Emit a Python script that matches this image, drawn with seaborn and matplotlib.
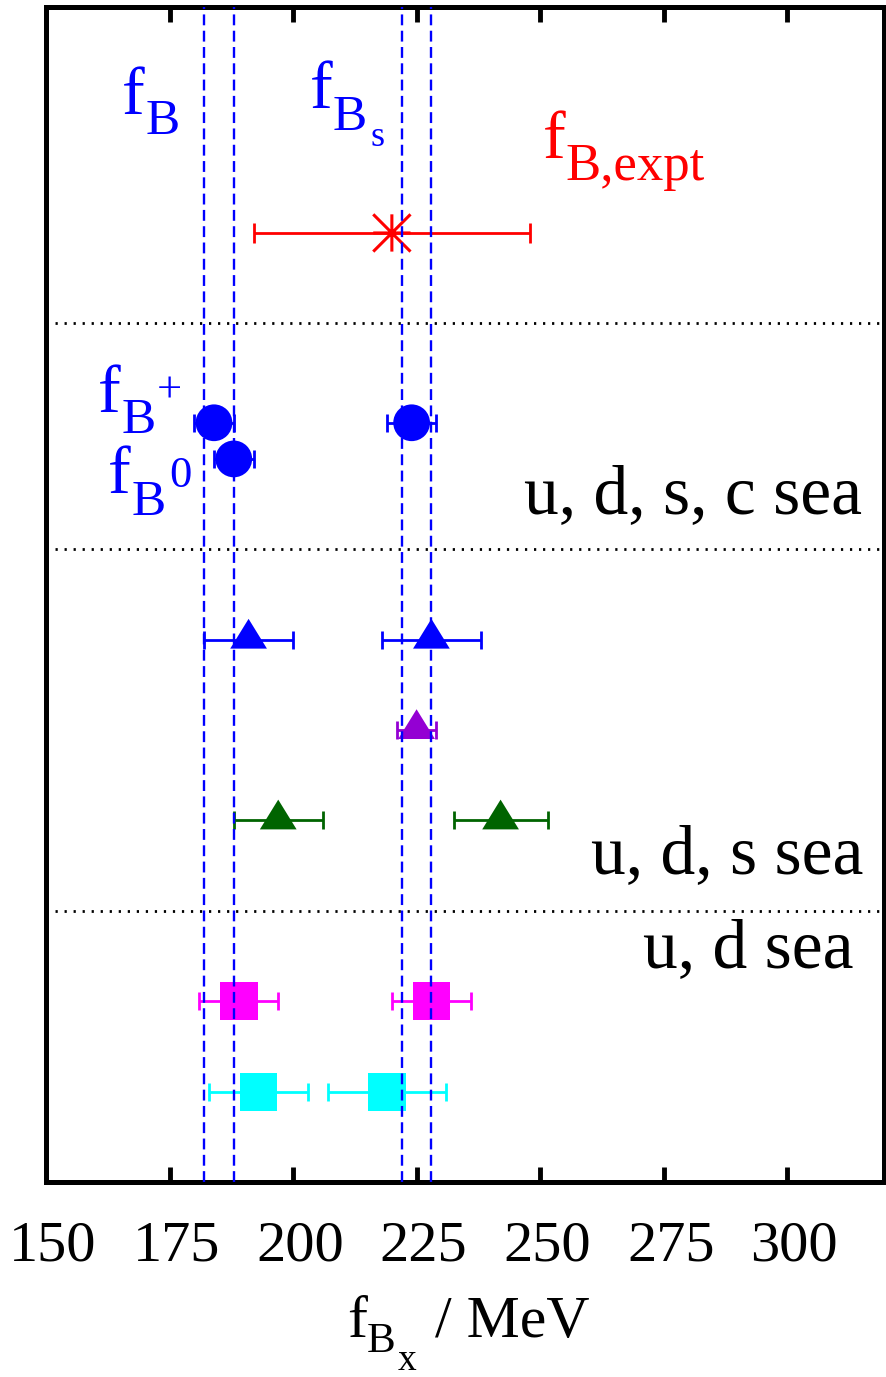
import matplotlib
matplotlib.use("Agg")
import matplotlib.pyplot as plt
from matplotlib.path import Path
from matplotlib.transforms import ScaledTranslation
import numpy as np
import pandas as pd
import seaborn as sns

# ---- data -------------------------------------------------------------
# Lattice results for f_B (left) and f_Bs (right), in MeV, one row per entry
row_pos = [4.6, 4.6, 5.0, 7.0, 7.0, 8.0, 9.0, 9.0, 11.0, 11.0, 12.0, 12.0]
decay_const = [184, 224, 188, 191, 228, 225, 197, 242, 189, 228, 193, 219]
decay_err = [4, 5, 4, 9, 10, 4, 9, 9.5, 8, 8, 10, 12]
group = ["nf4", "nf4", "nf4", "nrqcd", "nrqcd", "hisq",
         "fnal", "fnal", "etm", "etm", "alpha", "alpha"]

# Experimental determination of f_B
expt_value = [220]
expt_err = [28]
expt_row = [2.5]

# Edges of the dashed bands for f_B and f_Bs
band_fB = [182, 188]
band_fBs = [222, 228]

separator_rows = [3.5, 6.0, 10.0]
xticks = [150, 175, 200, 225, 250, 275, 300]

# ---- styling ----------------------------------------------------------
sns.set_theme(style="white")
plt.rcParams["font.family"] = ["Liberation Serif", "DejaVu Serif"]
plt.rcParams["text.color"] = "black"
plt.rcParams["axes.labelcolor"] = "black"
plt.rcParams["xtick.color"] = "black"

tri = [(-0.5, -0.243), (0.5, -0.243), (0.0, 0.567)]
asterisk = Path(
    [(0, -1), (0, 1), (-1, -1), (1, 1), (-1, 1), (1, -1), (-1, 0), (1, 0)],
    [Path.MOVETO, Path.LINETO] * 4,
)

styles = {
    "nf4":   dict(color="#0000ff", marker="o", s=700),
    "nrqcd": dict(color="#0000ff", marker=tri, s=900),
    "hisq":  dict(color="#9400d3", marker=tri, s=900),
    "fnal":  dict(color="#006400", marker=tri, s=900),
    "etm":   dict(color="#ff00ff", marker="s", s=740),
    "alpha": dict(color="#00ffff", marker="s", s=740),
}

df = pd.DataFrame({"value": decay_const, "err": decay_err,
                   "row": row_pos, "group": group})
expt = pd.DataFrame({"value": expt_value, "err": expt_err, "row": expt_row})

DPI = 100
fig = plt.figure(figsize=(8.86, 13.77), dpi=DPI)
ax = fig.add_axes([46 / 886, 1 - 1182 / 1377, 838 / 886, 1175 / 1377])

for g, st in styles.items():
    sub = df[df["group"] == g]
    ax.errorbar(sub["value"], sub["row"], xerr=sub["err"], fmt="none",
                ecolor=st["color"], elinewidth=2.0, capsize=6.5, capthick=2.0,
                zorder=2)
    sns.scatterplot(data=sub, x="value", y="row", ax=ax, color=st["color"],
                    marker=st["marker"], s=st["s"], linewidth=0,
                    edgecolor="none", zorder=3, legend=False)

ax.errorbar(expt["value"], expt["row"], xerr=expt["err"], fmt="none",
            ecolor="#ff0000", elinewidth=2.0, capsize=7, capthick=2.0, zorder=2)
sns.scatterplot(data=expt, x="value", y="row", ax=ax, marker=asterisk,
                s=720, facecolor="none", edgecolor="#ff0000", linewidth=2.2,
                zorder=3, legend=False)

for xv in band_fB + band_fBs:
    ax.axvline(xv, color="#0000ff", lw=1.7, ls=(0, (4.6, 2.3)), zorder=4)
for yv in separator_rows:
    ax.axhline(yv, color="black", lw=2.0, ls=(0, (0.8, 2.45)), zorder=4)


# ---- annotations ------------------------------------------------------
def compound_label(x, y, pieces, color="black", base=None):
    """Draw a label made of pieces (text, size, dx_px, drop_px) that share
    one anchor; dx/drop shift each piece right/down in pixels."""
    base = ax.transData if base is None else base
    for s, size, dx, drop in pieces:
        off = ScaledTranslation(dx / DPI, -drop / DPI, fig.dpi_scale_trans)
        ax.text(x, y, s, fontsize=size, color=color, ha="left",
                va="baseline", transform=base + off, clip_on=False)


blue = "#0000ff"
compound_label(165.3, 1.18, [("f", 49, 0, 0), ("B", 37, 24, 20)], blue)
compound_label(203.4, 1.12, [("f", 49, 0, 0), ("B", 37, 23, 22),
                             ("s", 26, 61, 38)], blue)
compound_label(250.6, 1.67, [("f", 49, 0, 0), ("B,expt", 38, 22, 22)],
               "#ff0000")
compound_label(160.5, 4.48, [("f", 49, 0, 0), ("B", 37, 24, 21),
                             ("+", 32, 59, -9)], blue)
compound_label(162.6, 5.38, [("f", 49, 0, 0), ("B", 37, 23, 22),
                             ("0", 32, 61, -6)], blue)

ax.text(315.2, 5.60, "u, d, s, c sea", fontsize=50, ha="right", va="baseline")
ax.text(315.4, 9.58, "u, d, s sea", fontsize=50, ha="right", va="baseline")
ax.text(313.4, 10.62, "u, d sea", fontsize=50, ha="right", va="baseline")

# x-axis title, built from pieces so the nested subscripts keep their size
compound_label((347 - 46) / 838, (1182 - 1337) / 1175,
               [("f", 43, 0, 0), ("B", 31, 20, 15), ("x", 27, 51, 33),
                ("/ MeV", 43, 88, 0)], "black", base=ax.transAxes)

# ---- axes -------------------------------------------------------------
ax.set_xlim(150, 319.6)
ax.set_ylim(13, 0)
ax.set_xticks(xticks)
ax.set_xticklabels([str(t) for t in xticks])
ax.set_yticks([])
ax.set_ylabel("")
ax.set_xlabel("")
ax.tick_params(axis="x", which="both", direction="in", top=True, bottom=True,
               length=11, width=3.5, color="black", labelcolor="black",
               labelsize=42, pad=28)
for sp in ax.spines.values():
    sp.set_visible(True)
    sp.set_color("black")
    sp.set_linewidth(3.6)

shift = ScaledTranslation(0.07, 0, fig.dpi_scale_trans)
for lab in ax.get_xticklabels():
    lab.set_transform(lab.get_transform() + shift)

fig.savefig("out.png", dpi=DPI, facecolor="white")
